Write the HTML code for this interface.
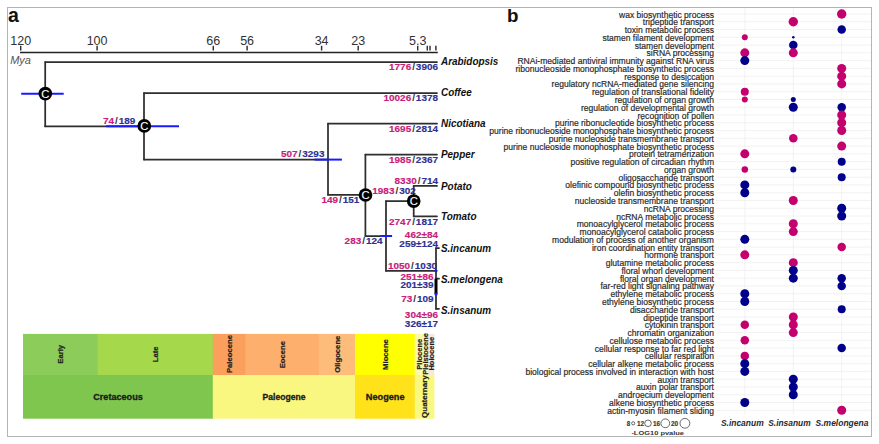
<!DOCTYPE html>
<html><head><meta charset="utf-8"><style>
html,body{margin:0;padding:0;background:#fff;width:879px;height:444px;overflow:hidden}
svg{display:block}

</style></head><body>
<svg width="879" height="444" viewBox="0 0 879 444">
<rect x="7.5" y="7.5" width="864" height="429" fill="none" stroke="#b4b4b4" stroke-width="1"/>
<text x="8" y="22" font-family="Liberation Sans" font-weight="bold" font-size="19.5" fill="#111">a</text>
<text x="507" y="21.7" font-family="Liberation Sans" font-weight="bold" font-size="18.8" fill="#111">b</text>
<line x1="20.7" y1="45.8" x2="20.7" y2="50.5" stroke="#2e2e2e" stroke-width="1.45"/>
<text x="20.7" y="44.8" text-anchor="middle" font-family="Liberation Sans" font-size="12.5" fill="#333">120</text>
<line x1="97.1" y1="45.8" x2="97.1" y2="50.5" stroke="#2e2e2e" stroke-width="1.45"/>
<text x="97.1" y="44.8" text-anchor="middle" font-family="Liberation Sans" font-size="12.5" fill="#333">100</text>
<line x1="213.3" y1="45.8" x2="213.3" y2="50.5" stroke="#2e2e2e" stroke-width="1.45"/>
<text x="213.3" y="44.8" text-anchor="middle" font-family="Liberation Sans" font-size="12.5" fill="#333">66</text>
<line x1="247.1" y1="45.8" x2="247.1" y2="50.5" stroke="#2e2e2e" stroke-width="1.45"/>
<text x="247.1" y="44.8" text-anchor="middle" font-family="Liberation Sans" font-size="12.5" fill="#333">56</text>
<line x1="321.6" y1="45.8" x2="321.6" y2="50.5" stroke="#2e2e2e" stroke-width="1.45"/>
<text x="321.6" y="44.8" text-anchor="middle" font-family="Liberation Sans" font-size="12.5" fill="#333">34</text>
<line x1="358.2" y1="45.8" x2="358.2" y2="50.5" stroke="#2e2e2e" stroke-width="1.45"/>
<text x="358.2" y="44.8" text-anchor="middle" font-family="Liberation Sans" font-size="12.5" fill="#333">23</text>
<line x1="417.7" y1="45.8" x2="417.7" y2="50.5" stroke="#2e2e2e" stroke-width="1.45"/>
<text x="417.7" y="44.8" text-anchor="middle" font-family="Liberation Sans" font-size="12.5" fill="#333">5.3</text>
<line x1="427.3" y1="45.8" x2="427.3" y2="50.5" stroke="#2e2e2e" stroke-width="1.45"/>
<line x1="430" y1="45.8" x2="430" y2="50.5" stroke="#2e2e2e" stroke-width="1.45"/>
<line x1="435.9" y1="45.8" x2="435.9" y2="50.5" stroke="#2e2e2e" stroke-width="1.45"/>
<line x1="20" y1="52.5" x2="437.8" y2="52.5" stroke="#222" stroke-width="1.5"/>
<text x="10.2" y="63.8" font-family="Liberation Sans" font-style="italic" font-size="11" fill="#555">Mya</text>
<line x1="45.2" y1="62" x2="45.2" y2="126.3" stroke="#2e2e2e" stroke-width="1.75" stroke-linecap="round"/>
<line x1="45.2" y1="62" x2="437" y2="62" stroke="#2e2e2e" stroke-width="1.75" stroke-linecap="round"/>
<line x1="45" y1="126.3" x2="144" y2="126.3" stroke="#2e2e2e" stroke-width="1.75" stroke-linecap="round"/>
<line x1="144" y1="93" x2="144" y2="159.6" stroke="#2e2e2e" stroke-width="1.75" stroke-linecap="round"/>
<line x1="144" y1="93" x2="437" y2="93" stroke="#2e2e2e" stroke-width="1.75" stroke-linecap="round"/>
<line x1="144" y1="159.6" x2="328" y2="159.6" stroke="#2e2e2e" stroke-width="1.75" stroke-linecap="round"/>
<line x1="328" y1="123.7" x2="328" y2="194.8" stroke="#2e2e2e" stroke-width="1.75" stroke-linecap="round"/>
<line x1="328" y1="123.7" x2="437" y2="123.7" stroke="#2e2e2e" stroke-width="1.75" stroke-linecap="round"/>
<line x1="328" y1="194.8" x2="365.4" y2="194.8" stroke="#2e2e2e" stroke-width="1.75" stroke-linecap="round"/>
<line x1="365.4" y1="154.5" x2="365.4" y2="236" stroke="#2e2e2e" stroke-width="1.75" stroke-linecap="round"/>
<line x1="365.4" y1="154.5" x2="437" y2="154.5" stroke="#2e2e2e" stroke-width="1.75" stroke-linecap="round"/>
<line x1="365.4" y1="236" x2="386" y2="236" stroke="#2e2e2e" stroke-width="1.75" stroke-linecap="round"/>
<line x1="386" y1="201.1" x2="386" y2="270.8" stroke="#2e2e2e" stroke-width="1.75" stroke-linecap="round"/>
<line x1="386" y1="201.1" x2="413.7" y2="201.1" stroke="#2e2e2e" stroke-width="1.75" stroke-linecap="round"/>
<line x1="413.7" y1="185.9" x2="413.7" y2="216.3" stroke="#2e2e2e" stroke-width="1.75" stroke-linecap="round"/>
<line x1="413.7" y1="185.9" x2="437" y2="185.9" stroke="#2e2e2e" stroke-width="1.75" stroke-linecap="round"/>
<line x1="413.7" y1="216.3" x2="437" y2="216.3" stroke="#2e2e2e" stroke-width="1.75" stroke-linecap="round"/>
<line x1="386" y1="270.8" x2="436" y2="270.8" stroke="#2e2e2e" stroke-width="1.75" stroke-linecap="round"/>
<line x1="436" y1="248" x2="436" y2="308.8" stroke="#2e2e2e" stroke-width="1.75" stroke-linecap="round"/>
<line x1="436" y1="248" x2="439" y2="248" stroke="#2e2e2e" stroke-width="1.75" stroke-linecap="round"/>
<line x1="436" y1="278.7" x2="439" y2="278.7" stroke="#2e2e2e" stroke-width="1.75" stroke-linecap="round"/>
<line x1="436" y1="308.8" x2="439" y2="308.8" stroke="#2e2e2e" stroke-width="1.75" stroke-linecap="round"/>
<line x1="436" y1="278.7" x2="436" y2="294" stroke="#000" stroke-width="3"/>
<line x1="21.2" y1="93.7" x2="63.7" y2="93.7" stroke="#1a1aff" stroke-width="2"/>
<line x1="106.2" y1="126.2" x2="179" y2="126.2" stroke="#1a1aff" stroke-width="2"/>
<line x1="314.6" y1="159.6" x2="341.9" y2="159.6" stroke="#1a1aff" stroke-width="2"/>
<line x1="380.5" y1="236" x2="392.1" y2="236" stroke="#1a1aff" stroke-width="2"/>
<circle cx="436" cy="270.8" r="1.6" fill="#1a1aff"/>
<circle cx="436" cy="294" r="1.6" fill="#1a1aff"/>
<circle cx="45.3" cy="93.6" r="6.85" fill="#000"/>
<text x="45.4" y="97.5" text-anchor="middle" font-family="Liberation Sans" font-size="11.2" fill="#fff" stroke="#fff" stroke-width="0.12">C</text>
<circle cx="144.3" cy="125.9" r="6.85" fill="#000"/>
<text x="144.4" y="129.8" text-anchor="middle" font-family="Liberation Sans" font-size="11.2" fill="#fff" stroke="#fff" stroke-width="0.12">C</text>
<circle cx="365.5" cy="195" r="6.85" fill="#000"/>
<text x="365.6" y="198.9" text-anchor="middle" font-family="Liberation Sans" font-size="11.2" fill="#fff" stroke="#fff" stroke-width="0.12">C</text>
<circle cx="413.7" cy="201.1" r="6.85" fill="#000"/>
<text x="413.8" y="205.0" text-anchor="middle" font-family="Liberation Sans" font-size="11.2" fill="#fff" stroke="#fff" stroke-width="0.12">C</text>
<text x="0" y="0" transform="translate(438 70.2) scale(1.07 1)" text-anchor="end" font-family="Liberation Sans" font-weight="bold" font-size="9.3" stroke-width="0.15"><tspan fill="#c8207a" stroke="#c8207a">1776</tspan><tspan fill="#333" stroke="none" dx="0.9">/</tspan><tspan fill="#2e3192" stroke="#2e3192" dx="0.9">3906</tspan></text>
<text x="0" y="0" transform="translate(438 101.3) scale(1.07 1)" text-anchor="end" font-family="Liberation Sans" font-weight="bold" font-size="9.3" stroke-width="0.15"><tspan fill="#c8207a" stroke="#c8207a">10026</tspan><tspan fill="#333" stroke="none" dx="0.9">/</tspan><tspan fill="#2e3192" stroke="#2e3192" dx="0.9">1378</tspan></text>
<text x="0" y="0" transform="translate(438 132.3) scale(1.07 1)" text-anchor="end" font-family="Liberation Sans" font-weight="bold" font-size="9.3" stroke-width="0.15"><tspan fill="#c8207a" stroke="#c8207a">1695</tspan><tspan fill="#333" stroke="none" dx="0.9">/</tspan><tspan fill="#2e3192" stroke="#2e3192" dx="0.9">2814</tspan></text>
<text x="0" y="0" transform="translate(438 163.2) scale(1.07 1)" text-anchor="end" font-family="Liberation Sans" font-weight="bold" font-size="9.3" stroke-width="0.15"><tspan fill="#c8207a" stroke="#c8207a">1985</tspan><tspan fill="#333" stroke="none" dx="0.9">/</tspan><tspan fill="#2e3192" stroke="#2e3192" dx="0.9">2367</tspan></text>
<text x="0" y="0" transform="translate(438 184.2) scale(1.07 1)" text-anchor="end" font-family="Liberation Sans" font-weight="bold" font-size="9.3" stroke-width="0.15"><tspan fill="#c8207a" stroke="#c8207a">8330</tspan><tspan fill="#333" stroke="none" dx="0.9">/</tspan><tspan fill="#2e3192" stroke="#2e3192" dx="0.9">714</tspan></text>
<text x="0" y="0" transform="translate(438 224.6) scale(1.07 1)" text-anchor="end" font-family="Liberation Sans" font-weight="bold" font-size="9.3" stroke-width="0.15"><tspan fill="#c8207a" stroke="#c8207a">2747</tspan><tspan fill="#333" stroke="none" dx="0.9">/</tspan><tspan fill="#2e3192" stroke="#2e3192" dx="0.9">1817</tspan></text>
<text x="0" y="0" transform="translate(438 237.8) scale(1.07 1)" text-anchor="end" font-family="Liberation Sans" font-weight="bold" font-size="9.3" fill="#c8207a" stroke="#c8207a" stroke-width="0.15">462±84</text>
<text x="0" y="0" transform="translate(438 246.5) scale(1.07 1)" text-anchor="end" font-family="Liberation Sans" font-weight="bold" font-size="9.3" fill="#2e3192" stroke="#2e3192" stroke-width="0.15">259±124</text>
<text x="0" y="0" transform="translate(433.6 280) scale(1.07 1)" text-anchor="end" font-family="Liberation Sans" font-weight="bold" font-size="9.3" fill="#c8207a" stroke="#c8207a" stroke-width="0.15">251±86</text>
<text x="0" y="0" transform="translate(433.6 288.2) scale(1.07 1)" text-anchor="end" font-family="Liberation Sans" font-weight="bold" font-size="9.3" fill="#2e3192" stroke="#2e3192" stroke-width="0.15">201±39</text>
<text x="0" y="0" transform="translate(433.6 302.2) scale(1.07 1)" text-anchor="end" font-family="Liberation Sans" font-weight="bold" font-size="9.3" stroke-width="0.15"><tspan fill="#c8207a" stroke="#c8207a">73</tspan><tspan fill="#333" stroke="none" dx="0.9">/</tspan><tspan fill="#2e3192" stroke="#2e3192" dx="0.9">109</tspan></text>
<text x="0" y="0" transform="translate(438 318.4) scale(1.07 1)" text-anchor="end" font-family="Liberation Sans" font-weight="bold" font-size="9.3" fill="#c8207a" stroke="#c8207a" stroke-width="0.15">304±96</text>
<text x="0" y="0" transform="translate(438 326.6) scale(1.07 1)" text-anchor="end" font-family="Liberation Sans" font-weight="bold" font-size="9.3" fill="#2e3192" stroke="#2e3192" stroke-width="0.15">326±17</text>
<text x="0" y="0" transform="translate(103 124.2) scale(1.07 1)" text-anchor="start" font-family="Liberation Sans" font-weight="bold" font-size="9.3" stroke-width="0.15"><tspan fill="#c8207a" stroke="#c8207a">74</tspan><tspan fill="#333" stroke="none" dx="0.9">/</tspan><tspan fill="#2e3192" stroke="#2e3192" dx="0.9">189</tspan></text>
<text x="0" y="0" transform="translate(281 156.9) scale(1.07 1)" text-anchor="start" font-family="Liberation Sans" font-weight="bold" font-size="9.3" stroke-width="0.15"><tspan fill="#c8207a" stroke="#c8207a">507</tspan><tspan fill="#333" stroke="none" dx="0.9">/</tspan><tspan fill="#2e3192" stroke="#2e3192" dx="0.9">3293</tspan></text>
<text x="0" y="0" transform="translate(321.4 203.2) scale(1.07 1)" text-anchor="start" font-family="Liberation Sans" font-weight="bold" font-size="9.3" stroke-width="0.15"><tspan fill="#c8207a" stroke="#c8207a">149</tspan><tspan fill="#333" stroke="none" dx="0.9">/</tspan><tspan fill="#2e3192" stroke="#2e3192" dx="0.9">151</tspan></text>
<text x="0" y="0" transform="translate(372.3 193.5) scale(1.07 1)" text-anchor="start" font-family="Liberation Sans" font-weight="bold" font-size="9.3" stroke-width="0.15"><tspan fill="#c8207a" stroke="#c8207a">1983</tspan><tspan fill="#333" stroke="none" dx="0.9">/</tspan><tspan fill="#2e3192" stroke="#2e3192" dx="0.9">302</tspan></text>
<text x="0" y="0" transform="translate(344.6 244.2) scale(1.07 1)" text-anchor="start" font-family="Liberation Sans" font-weight="bold" font-size="9.3" stroke-width="0.15"><tspan fill="#c8207a" stroke="#c8207a">283</tspan><tspan fill="#333" stroke="none" dx="0.9">/</tspan><tspan fill="#2e3192" stroke="#2e3192" dx="0.9">124</tspan></text>
<text x="0" y="0" transform="translate(388 269.2) scale(1.07 1)" text-anchor="start" font-family="Liberation Sans" font-weight="bold" font-size="9.3" stroke-width="0.15"><tspan fill="#c8207a" stroke="#c8207a">1050</tspan><tspan fill="#333" stroke="none" dx="0.9">/</tspan><tspan fill="#2e3192" stroke="#2e3192" dx="0.9">1030</tspan></text>
<text x="441" y="64.6" font-family="Liberation Sans" font-style="italic" font-weight="bold" font-size="10.8" fill="#111" transform="translate(441 0) scale(0.92 1) translate(-441 0)">Arabidopsis</text>
<text x="441" y="96.3" font-family="Liberation Sans" font-style="italic" font-weight="bold" font-size="10.8" fill="#111" transform="translate(441 0) scale(0.92 1) translate(-441 0)">Coffee</text>
<text x="441" y="127.2" font-family="Liberation Sans" font-style="italic" font-weight="bold" font-size="10.8" fill="#111" transform="translate(441 0) scale(0.92 1) translate(-441 0)">Nicotiana</text>
<text x="441" y="158.2" font-family="Liberation Sans" font-style="italic" font-weight="bold" font-size="10.8" fill="#111" transform="translate(441 0) scale(0.92 1) translate(-441 0)">Pepper</text>
<text x="441" y="189.6" font-family="Liberation Sans" font-style="italic" font-weight="bold" font-size="10.8" fill="#111" transform="translate(441 0) scale(0.92 1) translate(-441 0)">Potato</text>
<text x="441" y="220.1" font-family="Liberation Sans" font-style="italic" font-weight="bold" font-size="10.8" fill="#111" transform="translate(441 0) scale(0.92 1) translate(-441 0)">Tomato</text>
<text x="441" y="251.9" font-family="Liberation Sans" font-style="italic" font-weight="bold" font-size="10.8" fill="#111" transform="translate(441 0) scale(0.92 1) translate(-441 0)">S.incanum</text>
<text x="441" y="282.9" font-family="Liberation Sans" font-style="italic" font-weight="bold" font-size="10.8" fill="#111" transform="translate(441 0) scale(0.92 1) translate(-441 0)">S.melongena</text>
<text x="441" y="314" font-family="Liberation Sans" font-style="italic" font-weight="bold" font-size="10.8" fill="#111" transform="translate(441 0) scale(0.92 1) translate(-441 0)">S.insanum</text>
<rect x="23" y="333.9" width="75.20" height="41.60" fill="#8bcc5a"/>
<rect x="97.6" y="333.9" width="115.80" height="41.60" fill="#a6d84c"/>
<rect x="212.8" y="333.9" width="33.30" height="41.60" fill="#fb9f5c"/>
<rect x="245.5" y="333.9" width="74.00" height="41.60" fill="#fdb06e"/>
<rect x="318.9" y="333.9" width="36.70" height="41.60" fill="#fdbc7a"/>
<rect x="355" y="333.9" width="60.30" height="41.60" fill="#ffff00"/>
<rect x="414.7" y="333.9" width="13.70" height="41.60" fill="#fcfaa8"/>
<rect x="427.8" y="333.9" width="6.60" height="41.60" fill="#f8e8dc"/>
<rect x="23" y="375" width="190.40" height="43.70" fill="#7fc64e"/>
<rect x="212.8" y="375" width="142.80" height="43.70" fill="#f9f77f"/>
<rect x="355" y="375" width="60.30" height="43.70" fill="#ffe21a"/>
<rect x="414.7" y="375" width="19.70" height="43.70" fill="#f9f97f"/>
<text x="60.3" y="354.3" text-anchor="middle" dominant-baseline="central" font-family="Liberation Sans" font-weight="bold" font-size="7.7" fill="#1e1e1e" stroke="#1e1e1e" stroke-width="0.2" transform="rotate(-90 60.3 354.3)">Early</text>
<text x="155.2" y="354.3" text-anchor="middle" dominant-baseline="central" font-family="Liberation Sans" font-weight="bold" font-size="7.7" fill="#1e1e1e" stroke="#1e1e1e" stroke-width="0.2" transform="rotate(-90 155.2 354.3)">Late</text>
<text x="229.6" y="354" text-anchor="middle" dominant-baseline="central" font-family="Liberation Sans" font-weight="bold" font-size="7.7" fill="#1e1e1e" stroke="#1e1e1e" stroke-width="0.2" transform="rotate(-90 229.6 354)">Paleocene</text>
<text x="282.8" y="354.6" text-anchor="middle" dominant-baseline="central" font-family="Liberation Sans" font-weight="bold" font-size="7.7" fill="#1e1e1e" stroke="#1e1e1e" stroke-width="0.2" transform="rotate(-90 282.8 354.6)">Eocene</text>
<text x="337.3" y="354.2" text-anchor="middle" dominant-baseline="central" font-family="Liberation Sans" font-weight="bold" font-size="7.7" fill="#1e1e1e" stroke="#1e1e1e" stroke-width="0.2" transform="rotate(-90 337.3 354.2)">Oligocene</text>
<text x="385.3" y="354.5" text-anchor="middle" dominant-baseline="central" font-family="Liberation Sans" font-weight="bold" font-size="7.7" fill="#1e1e1e" stroke="#1e1e1e" stroke-width="0.2" transform="rotate(-90 385.3 354.5)">Miocene</text>
<text x="419.3" y="354.2" text-anchor="middle" dominant-baseline="central" font-family="Liberation Sans" font-weight="bold" font-size="7.5" fill="#1e1e1e" stroke="#1e1e1e" stroke-width="0.2" transform="rotate(-90 419.3 354.2)">Pliocene</text>
<text x="425.3" y="353.9" text-anchor="middle" dominant-baseline="central" font-family="Liberation Sans" font-weight="bold" font-size="7.5" fill="#1e1e1e" stroke="#1e1e1e" stroke-width="0.2" transform="rotate(-90 425.3 353.9)">Pleistocene</text>
<text x="431.1" y="353.7" text-anchor="middle" dominant-baseline="central" font-family="Liberation Sans" font-weight="bold" font-size="7.5" fill="#1e1e1e" stroke="#1e1e1e" stroke-width="0.2" transform="rotate(-90 431.1 353.7)">Holocene</text>
<text x="424.2" y="396.6" text-anchor="middle" dominant-baseline="central" font-family="Liberation Sans" font-weight="bold" font-size="8" fill="#1e1e1e" stroke="#1e1e1e" stroke-width="0.2" transform="rotate(-90 424.2 396.6)">Quaternary</text>
<text x="118" y="400.1" text-anchor="middle" font-family="Liberation Sans" font-weight="bold" font-size="9.1" fill="#1a1a1a" stroke="#1a1a1a" stroke-width="0.3">Cretaceous</text>
<text x="284" y="400.1" text-anchor="middle" font-family="Liberation Sans" font-weight="bold" font-size="8.6" fill="#1a1a1a" stroke="#1a1a1a" stroke-width="0.3">Paleogene</text>
<text x="385.2" y="400.1" text-anchor="middle" font-family="Liberation Sans" font-weight="bold" font-size="9.2" fill="#1a1a1a" stroke="#1a1a1a" stroke-width="0.3">Neogene</text>
<line x1="716" y1="14.00" x2="871" y2="14.00" stroke="#efefef" stroke-width="0.8"/>
<line x1="716" y1="21.77" x2="871" y2="21.77" stroke="#efefef" stroke-width="0.8"/>
<line x1="716" y1="29.54" x2="871" y2="29.54" stroke="#efefef" stroke-width="0.8"/>
<line x1="716" y1="37.31" x2="871" y2="37.31" stroke="#efefef" stroke-width="0.8"/>
<line x1="716" y1="45.08" x2="871" y2="45.08" stroke="#efefef" stroke-width="0.8"/>
<line x1="716" y1="52.85" x2="871" y2="52.85" stroke="#efefef" stroke-width="0.8"/>
<line x1="716" y1="60.62" x2="871" y2="60.62" stroke="#efefef" stroke-width="0.8"/>
<line x1="716" y1="68.39" x2="871" y2="68.39" stroke="#efefef" stroke-width="0.8"/>
<line x1="716" y1="76.16" x2="871" y2="76.16" stroke="#efefef" stroke-width="0.8"/>
<line x1="716" y1="83.93" x2="871" y2="83.93" stroke="#efefef" stroke-width="0.8"/>
<line x1="716" y1="91.70" x2="871" y2="91.70" stroke="#efefef" stroke-width="0.8"/>
<line x1="716" y1="99.47" x2="871" y2="99.47" stroke="#efefef" stroke-width="0.8"/>
<line x1="716" y1="107.24" x2="871" y2="107.24" stroke="#efefef" stroke-width="0.8"/>
<line x1="716" y1="115.01" x2="871" y2="115.01" stroke="#efefef" stroke-width="0.8"/>
<line x1="716" y1="122.78" x2="871" y2="122.78" stroke="#efefef" stroke-width="0.8"/>
<line x1="716" y1="130.55" x2="871" y2="130.55" stroke="#efefef" stroke-width="0.8"/>
<line x1="716" y1="138.32" x2="871" y2="138.32" stroke="#efefef" stroke-width="0.8"/>
<line x1="716" y1="146.09" x2="871" y2="146.09" stroke="#efefef" stroke-width="0.8"/>
<line x1="716" y1="153.86" x2="871" y2="153.86" stroke="#efefef" stroke-width="0.8"/>
<line x1="716" y1="161.63" x2="871" y2="161.63" stroke="#efefef" stroke-width="0.8"/>
<line x1="716" y1="169.40" x2="871" y2="169.40" stroke="#efefef" stroke-width="0.8"/>
<line x1="716" y1="177.17" x2="871" y2="177.17" stroke="#efefef" stroke-width="0.8"/>
<line x1="716" y1="184.94" x2="871" y2="184.94" stroke="#efefef" stroke-width="0.8"/>
<line x1="716" y1="192.71" x2="871" y2="192.71" stroke="#efefef" stroke-width="0.8"/>
<line x1="716" y1="200.48" x2="871" y2="200.48" stroke="#efefef" stroke-width="0.8"/>
<line x1="716" y1="208.25" x2="871" y2="208.25" stroke="#efefef" stroke-width="0.8"/>
<line x1="716" y1="216.02" x2="871" y2="216.02" stroke="#efefef" stroke-width="0.8"/>
<line x1="716" y1="223.79" x2="871" y2="223.79" stroke="#efefef" stroke-width="0.8"/>
<line x1="716" y1="231.56" x2="871" y2="231.56" stroke="#efefef" stroke-width="0.8"/>
<line x1="716" y1="239.33" x2="871" y2="239.33" stroke="#efefef" stroke-width="0.8"/>
<line x1="716" y1="247.10" x2="871" y2="247.10" stroke="#efefef" stroke-width="0.8"/>
<line x1="716" y1="254.87" x2="871" y2="254.87" stroke="#efefef" stroke-width="0.8"/>
<line x1="716" y1="262.64" x2="871" y2="262.64" stroke="#efefef" stroke-width="0.8"/>
<line x1="716" y1="270.41" x2="871" y2="270.41" stroke="#efefef" stroke-width="0.8"/>
<line x1="716" y1="278.18" x2="871" y2="278.18" stroke="#efefef" stroke-width="0.8"/>
<line x1="716" y1="285.95" x2="871" y2="285.95" stroke="#efefef" stroke-width="0.8"/>
<line x1="716" y1="293.72" x2="871" y2="293.72" stroke="#efefef" stroke-width="0.8"/>
<line x1="716" y1="301.49" x2="871" y2="301.49" stroke="#efefef" stroke-width="0.8"/>
<line x1="716" y1="309.26" x2="871" y2="309.26" stroke="#efefef" stroke-width="0.8"/>
<line x1="716" y1="317.03" x2="871" y2="317.03" stroke="#efefef" stroke-width="0.8"/>
<line x1="716" y1="324.80" x2="871" y2="324.80" stroke="#efefef" stroke-width="0.8"/>
<line x1="716" y1="332.57" x2="871" y2="332.57" stroke="#efefef" stroke-width="0.8"/>
<line x1="716" y1="340.34" x2="871" y2="340.34" stroke="#efefef" stroke-width="0.8"/>
<line x1="716" y1="348.11" x2="871" y2="348.11" stroke="#efefef" stroke-width="0.8"/>
<line x1="716" y1="355.88" x2="871" y2="355.88" stroke="#efefef" stroke-width="0.8"/>
<line x1="716" y1="363.65" x2="871" y2="363.65" stroke="#efefef" stroke-width="0.8"/>
<line x1="716" y1="371.42" x2="871" y2="371.42" stroke="#efefef" stroke-width="0.8"/>
<line x1="716" y1="379.19" x2="871" y2="379.19" stroke="#efefef" stroke-width="0.8"/>
<line x1="716" y1="386.96" x2="871" y2="386.96" stroke="#efefef" stroke-width="0.8"/>
<line x1="716" y1="394.73" x2="871" y2="394.73" stroke="#efefef" stroke-width="0.8"/>
<line x1="716" y1="402.50" x2="871" y2="402.50" stroke="#efefef" stroke-width="0.8"/>
<line x1="716" y1="410.27" x2="871" y2="410.27" stroke="#efefef" stroke-width="0.8"/>
<line x1="744.8" y1="8" x2="744.8" y2="414.5" stroke="#efefef" stroke-width="0.8"/>
<line x1="793.3" y1="8" x2="793.3" y2="414.5" stroke="#efefef" stroke-width="0.8"/>
<line x1="841.7" y1="8" x2="841.7" y2="414.5" stroke="#efefef" stroke-width="0.8"/>
<text x="0" y="0" transform="translate(714 17.50) scale(0.9293478260869567 1)" text-anchor="end" font-family="Liberation Sans" font-size="9.2" fill="#2b2b2b" stroke="#2b2b2b" stroke-width="0.2">wax biosynthetic process</text>
<text x="0" y="0" transform="translate(714 25.27) scale(0.9293478260869567 1)" text-anchor="end" font-family="Liberation Sans" font-size="9.2" fill="#2b2b2b" stroke="#2b2b2b" stroke-width="0.2">tripeptide transport</text>
<text x="0" y="0" transform="translate(714 33.04) scale(0.9293478260869567 1)" text-anchor="end" font-family="Liberation Sans" font-size="9.2" fill="#2b2b2b" stroke="#2b2b2b" stroke-width="0.2">toxin metabolic process</text>
<text x="0" y="0" transform="translate(714 40.81) scale(0.9293478260869567 1)" text-anchor="end" font-family="Liberation Sans" font-size="9.2" fill="#2b2b2b" stroke="#2b2b2b" stroke-width="0.2">stamen filament development</text>
<text x="0" y="0" transform="translate(714 48.58) scale(0.9293478260869567 1)" text-anchor="end" font-family="Liberation Sans" font-size="9.2" fill="#2b2b2b" stroke="#2b2b2b" stroke-width="0.2">stamen development</text>
<text x="0" y="0" transform="translate(714 56.35) scale(0.9293478260869567 1)" text-anchor="end" font-family="Liberation Sans" font-size="9.2" fill="#2b2b2b" stroke="#2b2b2b" stroke-width="0.2">siRNA processing</text>
<text x="0" y="0" transform="translate(714 64.12) scale(0.9293478260869567 1)" text-anchor="end" font-family="Liberation Sans" font-size="9.2" fill="#2b2b2b" stroke="#2b2b2b" stroke-width="0.2">RNAi-mediated antiviral immunity against RNA virus</text>
<text x="0" y="0" transform="translate(714 71.89) scale(0.9293478260869567 1)" text-anchor="end" font-family="Liberation Sans" font-size="9.2" fill="#2b2b2b" stroke="#2b2b2b" stroke-width="0.2">ribonucleoside monophosphate biosynthetic process</text>
<text x="0" y="0" transform="translate(714 79.66) scale(0.9293478260869567 1)" text-anchor="end" font-family="Liberation Sans" font-size="9.2" fill="#2b2b2b" stroke="#2b2b2b" stroke-width="0.2">response to desiccation</text>
<text x="0" y="0" transform="translate(714 87.43) scale(0.9293478260869567 1)" text-anchor="end" font-family="Liberation Sans" font-size="9.2" fill="#2b2b2b" stroke="#2b2b2b" stroke-width="0.2">regulatory ncRNA-mediated gene silencing</text>
<text x="0" y="0" transform="translate(714 95.20) scale(0.9293478260869567 1)" text-anchor="end" font-family="Liberation Sans" font-size="9.2" fill="#2b2b2b" stroke="#2b2b2b" stroke-width="0.2">regulation of translational fidelity</text>
<text x="0" y="0" transform="translate(714 102.97) scale(0.9293478260869567 1)" text-anchor="end" font-family="Liberation Sans" font-size="9.2" fill="#2b2b2b" stroke="#2b2b2b" stroke-width="0.2">regulation of organ growth</text>
<text x="0" y="0" transform="translate(714 110.74) scale(0.9293478260869567 1)" text-anchor="end" font-family="Liberation Sans" font-size="9.2" fill="#2b2b2b" stroke="#2b2b2b" stroke-width="0.2">regulation of developmental growth</text>
<text x="0" y="0" transform="translate(714 118.51) scale(0.9293478260869567 1)" text-anchor="end" font-family="Liberation Sans" font-size="9.2" fill="#2b2b2b" stroke="#2b2b2b" stroke-width="0.2">recognition of pollen</text>
<text x="0" y="0" transform="translate(714 126.28) scale(0.9293478260869567 1)" text-anchor="end" font-family="Liberation Sans" font-size="9.2" fill="#2b2b2b" stroke="#2b2b2b" stroke-width="0.2">purine ribonucleotide biosynthetic process</text>
<text x="0" y="0" transform="translate(714 134.05) scale(0.9293478260869567 1)" text-anchor="end" font-family="Liberation Sans" font-size="9.2" fill="#2b2b2b" stroke="#2b2b2b" stroke-width="0.2">purine ribonucleoside monophosphate biosynthetic process</text>
<text x="0" y="0" transform="translate(714 141.82) scale(0.9293478260869567 1)" text-anchor="end" font-family="Liberation Sans" font-size="9.2" fill="#2b2b2b" stroke="#2b2b2b" stroke-width="0.2">purine nucleoside transmembrane transport</text>
<text x="0" y="0" transform="translate(714 149.59) scale(0.9293478260869567 1)" text-anchor="end" font-family="Liberation Sans" font-size="9.2" fill="#2b2b2b" stroke="#2b2b2b" stroke-width="0.2">purine nucleoside monophosphate biosynthetic process</text>
<text x="0" y="0" transform="translate(714 157.36) scale(0.9293478260869567 1)" text-anchor="end" font-family="Liberation Sans" font-size="9.2" fill="#2b2b2b" stroke="#2b2b2b" stroke-width="0.2">protein tetramerization</text>
<text x="0" y="0" transform="translate(714 165.13) scale(0.9293478260869567 1)" text-anchor="end" font-family="Liberation Sans" font-size="9.2" fill="#2b2b2b" stroke="#2b2b2b" stroke-width="0.2">positive regulation of circadian rhythm</text>
<text x="0" y="0" transform="translate(714 172.90) scale(0.9293478260869567 1)" text-anchor="end" font-family="Liberation Sans" font-size="9.2" fill="#2b2b2b" stroke="#2b2b2b" stroke-width="0.2">organ growth</text>
<text x="0" y="0" transform="translate(714 180.67) scale(0.9293478260869567 1)" text-anchor="end" font-family="Liberation Sans" font-size="9.2" fill="#2b2b2b" stroke="#2b2b2b" stroke-width="0.2">oligosaccharide transport</text>
<text x="0" y="0" transform="translate(714 188.44) scale(0.9293478260869567 1)" text-anchor="end" font-family="Liberation Sans" font-size="9.2" fill="#2b2b2b" stroke="#2b2b2b" stroke-width="0.2">olefinic compound biosynthetic process</text>
<text x="0" y="0" transform="translate(714 196.21) scale(0.9293478260869567 1)" text-anchor="end" font-family="Liberation Sans" font-size="9.2" fill="#2b2b2b" stroke="#2b2b2b" stroke-width="0.2">olefin biosynthetic process</text>
<text x="0" y="0" transform="translate(714 203.98) scale(0.9293478260869567 1)" text-anchor="end" font-family="Liberation Sans" font-size="9.2" fill="#2b2b2b" stroke="#2b2b2b" stroke-width="0.2">nucleoside transmembrane transport</text>
<text x="0" y="0" transform="translate(714 211.75) scale(0.9293478260869567 1)" text-anchor="end" font-family="Liberation Sans" font-size="9.2" fill="#2b2b2b" stroke="#2b2b2b" stroke-width="0.2">ncRNA processing</text>
<text x="0" y="0" transform="translate(714 219.52) scale(0.9293478260869567 1)" text-anchor="end" font-family="Liberation Sans" font-size="9.2" fill="#2b2b2b" stroke="#2b2b2b" stroke-width="0.2">ncRNA metabolic process</text>
<text x="0" y="0" transform="translate(714 227.29) scale(0.9293478260869567 1)" text-anchor="end" font-family="Liberation Sans" font-size="9.2" fill="#2b2b2b" stroke="#2b2b2b" stroke-width="0.2">monoacylglycerol metabolic process</text>
<text x="0" y="0" transform="translate(714 235.06) scale(0.9293478260869567 1)" text-anchor="end" font-family="Liberation Sans" font-size="9.2" fill="#2b2b2b" stroke="#2b2b2b" stroke-width="0.2">monoacylglycerol catabolic process</text>
<text x="0" y="0" transform="translate(714 242.83) scale(0.9293478260869567 1)" text-anchor="end" font-family="Liberation Sans" font-size="9.2" fill="#2b2b2b" stroke="#2b2b2b" stroke-width="0.2">modulation of process of another organism</text>
<text x="0" y="0" transform="translate(714 250.60) scale(0.9293478260869567 1)" text-anchor="end" font-family="Liberation Sans" font-size="9.2" fill="#2b2b2b" stroke="#2b2b2b" stroke-width="0.2">iron coordination entity transport</text>
<text x="0" y="0" transform="translate(714 258.37) scale(0.9293478260869567 1)" text-anchor="end" font-family="Liberation Sans" font-size="9.2" fill="#2b2b2b" stroke="#2b2b2b" stroke-width="0.2">hormone transport</text>
<text x="0" y="0" transform="translate(714 266.14) scale(0.9293478260869567 1)" text-anchor="end" font-family="Liberation Sans" font-size="9.2" fill="#2b2b2b" stroke="#2b2b2b" stroke-width="0.2">glutamine metabolic process</text>
<text x="0" y="0" transform="translate(714 273.91) scale(0.9293478260869567 1)" text-anchor="end" font-family="Liberation Sans" font-size="9.2" fill="#2b2b2b" stroke="#2b2b2b" stroke-width="0.2">floral whorl development</text>
<text x="0" y="0" transform="translate(714 281.68) scale(0.9293478260869567 1)" text-anchor="end" font-family="Liberation Sans" font-size="9.2" fill="#2b2b2b" stroke="#2b2b2b" stroke-width="0.2">floral organ development</text>
<text x="0" y="0" transform="translate(714 289.45) scale(0.9293478260869567 1)" text-anchor="end" font-family="Liberation Sans" font-size="9.2" fill="#2b2b2b" stroke="#2b2b2b" stroke-width="0.2">far-red light signaling pathway</text>
<text x="0" y="0" transform="translate(714 297.22) scale(0.9293478260869567 1)" text-anchor="end" font-family="Liberation Sans" font-size="9.2" fill="#2b2b2b" stroke="#2b2b2b" stroke-width="0.2">ethylene metabolic process</text>
<text x="0" y="0" transform="translate(714 304.99) scale(0.9293478260869567 1)" text-anchor="end" font-family="Liberation Sans" font-size="9.2" fill="#2b2b2b" stroke="#2b2b2b" stroke-width="0.2">ethylene biosynthetic process</text>
<text x="0" y="0" transform="translate(714 312.76) scale(0.9293478260869567 1)" text-anchor="end" font-family="Liberation Sans" font-size="9.2" fill="#2b2b2b" stroke="#2b2b2b" stroke-width="0.2">disaccharide transport</text>
<text x="0" y="0" transform="translate(714 320.53) scale(0.9293478260869567 1)" text-anchor="end" font-family="Liberation Sans" font-size="9.2" fill="#2b2b2b" stroke="#2b2b2b" stroke-width="0.2">dipeptide transport</text>
<text x="0" y="0" transform="translate(714 328.30) scale(0.9293478260869567 1)" text-anchor="end" font-family="Liberation Sans" font-size="9.2" fill="#2b2b2b" stroke="#2b2b2b" stroke-width="0.2">cytokinin transport</text>
<text x="0" y="0" transform="translate(714 336.07) scale(0.9293478260869567 1)" text-anchor="end" font-family="Liberation Sans" font-size="9.2" fill="#2b2b2b" stroke="#2b2b2b" stroke-width="0.2">chromatin organization</text>
<text x="0" y="0" transform="translate(714 343.84) scale(0.9293478260869567 1)" text-anchor="end" font-family="Liberation Sans" font-size="9.2" fill="#2b2b2b" stroke="#2b2b2b" stroke-width="0.2">cellulose metabolic process</text>
<text x="0" y="0" transform="translate(714 351.61) scale(0.9293478260869567 1)" text-anchor="end" font-family="Liberation Sans" font-size="9.2" fill="#2b2b2b" stroke="#2b2b2b" stroke-width="0.2">cellular response to far red light</text>
<text x="0" y="0" transform="translate(714 359.38) scale(0.9293478260869567 1)" text-anchor="end" font-family="Liberation Sans" font-size="9.2" fill="#2b2b2b" stroke="#2b2b2b" stroke-width="0.2">cellular respiration</text>
<text x="0" y="0" transform="translate(714 367.15) scale(0.9293478260869567 1)" text-anchor="end" font-family="Liberation Sans" font-size="9.2" fill="#2b2b2b" stroke="#2b2b2b" stroke-width="0.2">cellular alkene metabolic process</text>
<text x="0" y="0" transform="translate(714 374.92) scale(0.9293478260869567 1)" text-anchor="end" font-family="Liberation Sans" font-size="9.2" fill="#2b2b2b" stroke="#2b2b2b" stroke-width="0.2">biological process involved in interaction with host</text>
<text x="0" y="0" transform="translate(714 382.69) scale(0.9293478260869567 1)" text-anchor="end" font-family="Liberation Sans" font-size="9.2" fill="#2b2b2b" stroke="#2b2b2b" stroke-width="0.2">auxin transport</text>
<text x="0" y="0" transform="translate(714 390.46) scale(0.9293478260869567 1)" text-anchor="end" font-family="Liberation Sans" font-size="9.2" fill="#2b2b2b" stroke="#2b2b2b" stroke-width="0.2">auxin polar transport</text>
<text x="0" y="0" transform="translate(714 398.23) scale(0.9293478260869567 1)" text-anchor="end" font-family="Liberation Sans" font-size="9.2" fill="#2b2b2b" stroke="#2b2b2b" stroke-width="0.2">androecium development</text>
<text x="0" y="0" transform="translate(714 406.00) scale(0.9293478260869567 1)" text-anchor="end" font-family="Liberation Sans" font-size="9.2" fill="#2b2b2b" stroke="#2b2b2b" stroke-width="0.2">alkene biosynthetic process</text>
<text x="0" y="0" transform="translate(714 413.77) scale(0.9293478260869567 1)" text-anchor="end" font-family="Liberation Sans" font-size="9.2" fill="#2b2b2b" stroke="#2b2b2b" stroke-width="0.2">actin-myosin filament sliding</text>
<circle cx="841.7" cy="14.00" r="4.7" fill="#c4006e"/>
<circle cx="793.3" cy="21.77" r="4.7" fill="#c4006e"/>
<circle cx="841.7" cy="29.54" r="4.25" fill="#00008b"/>
<circle cx="744.8" cy="37.31" r="3.0" fill="#c4006e"/>
<circle cx="793.3" cy="37.31" r="1.25" fill="#00008b"/>
<circle cx="793.3" cy="45.08" r="4.25" fill="#00008b"/>
<circle cx="744.8" cy="52.85" r="4.5" fill="#c4006e"/>
<circle cx="793.3" cy="52.85" r="4.5" fill="#c4006e"/>
<circle cx="744.8" cy="60.62" r="4.5" fill="#00008b"/>
<circle cx="841.7" cy="68.39" r="4.5" fill="#c4006e"/>
<circle cx="841.7" cy="76.16" r="4.5" fill="#c4006e"/>
<circle cx="841.7" cy="83.93" r="4.5" fill="#c4006e"/>
<circle cx="744.8" cy="91.70" r="4.0" fill="#c4006e"/>
<circle cx="744.8" cy="99.47" r="3.0" fill="#c4006e"/>
<circle cx="793.3" cy="99.47" r="2.5" fill="#00008b"/>
<circle cx="793.3" cy="107.24" r="4.5" fill="#00008b"/>
<circle cx="841.7" cy="107.24" r="4.25" fill="#00008b"/>
<circle cx="841.7" cy="115.01" r="4.5" fill="#c4006e"/>
<circle cx="841.7" cy="122.78" r="4.5" fill="#c4006e"/>
<circle cx="841.7" cy="130.55" r="4.5" fill="#c4006e"/>
<circle cx="793.3" cy="138.32" r="4.25" fill="#c4006e"/>
<circle cx="841.7" cy="146.09" r="4.5" fill="#c4006e"/>
<circle cx="744.8" cy="153.86" r="4.5" fill="#c4006e"/>
<circle cx="841.7" cy="161.63" r="4.0" fill="#00008b"/>
<circle cx="744.8" cy="169.40" r="3.25" fill="#c4006e"/>
<circle cx="793.3" cy="169.40" r="3.0" fill="#00008b"/>
<circle cx="841.7" cy="177.17" r="4.0" fill="#00008b"/>
<circle cx="744.8" cy="184.94" r="4.5" fill="#00008b"/>
<circle cx="744.8" cy="192.71" r="4.5" fill="#00008b"/>
<circle cx="793.3" cy="200.48" r="4.5" fill="#c4006e"/>
<circle cx="841.7" cy="208.25" r="4.5" fill="#00008b"/>
<circle cx="841.7" cy="216.02" r="4.5" fill="#00008b"/>
<circle cx="793.3" cy="223.79" r="4.5" fill="#c4006e"/>
<circle cx="793.3" cy="231.56" r="4.5" fill="#c4006e"/>
<circle cx="744.8" cy="239.33" r="4.5" fill="#00008b"/>
<circle cx="841.7" cy="247.10" r="4.25" fill="#c4006e"/>
<circle cx="744.8" cy="254.87" r="4.5" fill="#c4006e"/>
<circle cx="793.3" cy="262.64" r="4.5" fill="#c4006e"/>
<circle cx="793.3" cy="270.41" r="4.5" fill="#00008b"/>
<circle cx="793.3" cy="278.18" r="4.5" fill="#00008b"/>
<circle cx="841.7" cy="278.18" r="4.25" fill="#00008b"/>
<circle cx="841.7" cy="285.95" r="4.25" fill="#00008b"/>
<circle cx="744.8" cy="293.72" r="4.5" fill="#00008b"/>
<circle cx="744.8" cy="301.49" r="4.5" fill="#00008b"/>
<circle cx="841.7" cy="309.26" r="4.0" fill="#00008b"/>
<circle cx="793.3" cy="317.03" r="4.5" fill="#c4006e"/>
<circle cx="744.8" cy="324.80" r="4.25" fill="#c4006e"/>
<circle cx="793.3" cy="324.80" r="4.5" fill="#c4006e"/>
<circle cx="793.3" cy="332.57" r="4.5" fill="#c4006e"/>
<circle cx="744.8" cy="340.34" r="4.25" fill="#c4006e"/>
<circle cx="841.7" cy="348.11" r="4.25" fill="#00008b"/>
<circle cx="744.8" cy="355.88" r="4.25" fill="#c4006e"/>
<circle cx="744.8" cy="363.65" r="4.5" fill="#00008b"/>
<circle cx="744.8" cy="371.42" r="4.5" fill="#00008b"/>
<circle cx="793.3" cy="379.19" r="4.5" fill="#00008b"/>
<circle cx="793.3" cy="386.96" r="4.5" fill="#00008b"/>
<circle cx="793.3" cy="394.73" r="4.5" fill="#00008b"/>
<circle cx="744.8" cy="402.50" r="4.5" fill="#00008b"/>
<circle cx="841.7" cy="410.27" r="4.5" fill="#c4006e"/>
<text x="720.9" y="426.2" textLength="42.8" lengthAdjust="spacingAndGlyphs" font-family="Liberation Sans" font-style="italic" font-weight="bold" font-size="9.1" fill="#2a2a2a">S.incanum</text>
<text x="768.2" y="426.2" textLength="42.5" lengthAdjust="spacingAndGlyphs" font-family="Liberation Sans" font-style="italic" font-weight="bold" font-size="9.1" fill="#2a2a2a">S.insanum</text>
<text x="815.6" y="426.2" textLength="52.8" lengthAdjust="spacingAndGlyphs" font-family="Liberation Sans" font-style="italic" font-weight="bold" font-size="9.1" fill="#2a2a2a">S.melongena</text>
<text x="626.8" y="426" textLength="3.4" lengthAdjust="spacingAndGlyphs" font-family="Liberation Sans" font-weight="bold" font-size="7.6" fill="#3a3a3a" stroke="#3a3a3a" stroke-width="0.2">8</text>
<text x="637" y="426" textLength="7.2" lengthAdjust="spacingAndGlyphs" font-family="Liberation Sans" font-weight="bold" font-size="7.6" fill="#3a3a3a" stroke="#3a3a3a" stroke-width="0.2">12</text>
<text x="653" y="426" textLength="7.2" lengthAdjust="spacingAndGlyphs" font-family="Liberation Sans" font-weight="bold" font-size="7.6" fill="#3a3a3a" stroke="#3a3a3a" stroke-width="0.2">16</text>
<text x="671" y="426" textLength="7.2" lengthAdjust="spacingAndGlyphs" font-family="Liberation Sans" font-weight="bold" font-size="7.6" fill="#3a3a3a" stroke="#3a3a3a" stroke-width="0.2">20</text>
<circle cx="633.2" cy="423.3" r="1.6" fill="none" stroke="#444" stroke-width="0.8"/>
<circle cx="648" cy="423.3" r="3.3" fill="none" stroke="#444" stroke-width="0.8"/>
<circle cx="665.3" cy="423.3" r="4.4" fill="none" stroke="#444" stroke-width="0.8"/>
<circle cx="684.9" cy="423.3" r="4.9" fill="none" stroke="#444" stroke-width="0.8"/>
<text x="631.4" y="434.7" textLength="52.6" lengthAdjust="spacingAndGlyphs" font-family="Liberation Sans" font-weight="bold" font-size="6.2" fill="#333">-LOG10 pvalue</text>
</svg>
</body></html>
